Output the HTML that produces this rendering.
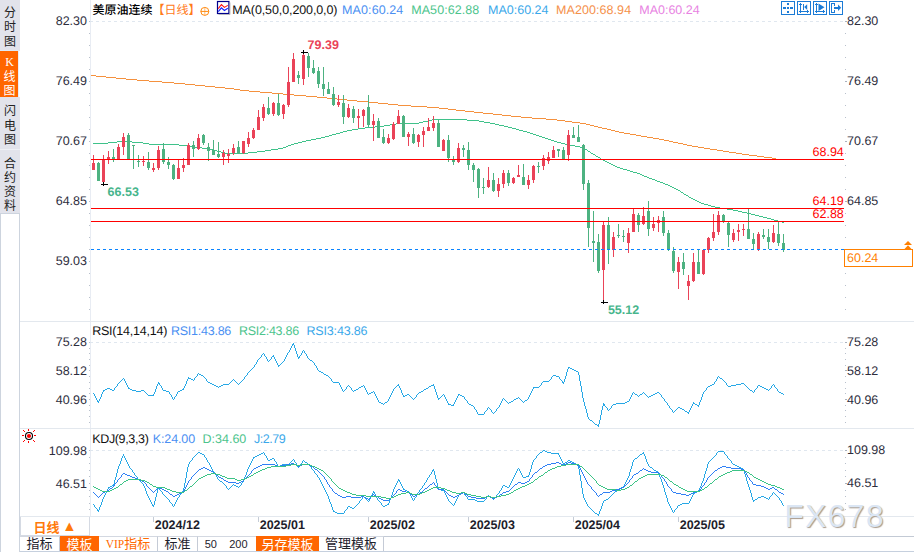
<!DOCTYPE html>
<html lang="zh-CN"><head><meta charset="utf-8"><title>美原油连续 日线</title>
<style>
html,body{margin:0;padding:0;background:#fff}
body{width:914px;height:552px;position:relative;overflow:hidden;font-family:"Liberation Sans","Noto Sans CJK SC",sans-serif;font-size:12px;color:#222}
.side{position:absolute;left:0;top:0;width:20px;height:552px}
.side .tab{position:absolute;left:0;width:20px;background:#e2e3eb;text-align:center;line-height:14.3px;font-size:12px;color:#222;box-sizing:border-box;word-break:break-all}
.side .tab span{display:block}
.side .on{background:#ff6600;color:#fff;width:19px;border-right:1px solid #e8edf5;border-top:1px solid #dfeaf7}
.side .on span{position:relative;left:.5px}
.side .on .k{font-family:"Liberation Serif",serif;font-size:12px;top:-.5px}
.side .rest{position:absolute;left:0;top:213px;width:18px;height:339px;border:1px solid #cdd4de;border-bottom:none;background:#fff}
.dl{position:absolute;left:20px;top:517px;width:70px;height:19px;border:1px solid #d5dae3;border-top:none;box-sizing:border-box;background:#fff;color:#ff7a0a;font-weight:bold;font-size:13px;line-height:20.4px;text-align:center;white-space:pre;padding-left:1px}
.dl i{font-style:normal;font-size:14.5px;position:relative;top:-1px;left:-1px}
.tb{position:absolute;left:20px;top:536px;height:15px;width:894px;display:flex;font-size:13px;line-height:14px;white-space:nowrap;color:#1e222c}
.tb div{box-sizing:border-box;text-align:center;height:15px;border-top:1px solid #d3d8e1;border-right:1px solid #c5cbd6;flex:none}
.tb .o{background:#ff6600;color:#fff;border-right:none;border-top:none;line-height:15px;padding-top:.5px}
.tb .v{color:#ff6a00}
.tb .v b{font-family:"Liberation Serif",serif;font-weight:normal;font-size:11.5px}
.tb .n{font-size:11px;border-right:none;text-align:left;padding-left:6.7px;word-spacing:9.2px;line-height:15px}
.tb .e{flex:1;border-right:none;border-top:1px solid #c3cad5}
</style></head><body>
<svg width="914" height="552" viewBox="0 0 914 552" style="position:absolute;left:0;top:0" shape-rendering="crispEdges">
<g fill="none">
<path d="M90.5 0V516" stroke="#e8ecf3"/>
<path d="M20 321.5H914M20 428.5H914M20 516.5H914" stroke="#e3e8ee"/>
<path d="M0 551.5H914" stroke="#c6d0de"/>
<path d="M90 21.5H844M90 342.5H844M90 450.5H844" stroke="#e0e7ef" stroke-dasharray="3 3"/>
</g>
<g fill="#b8c0cc"><rect x="89" y="21" width="1" height="1"/><rect x="845" y="21" width="1" height="1"/><rect x="89" y="33" width="1" height="1"/><rect x="845" y="33" width="1" height="1"/><rect x="89" y="45" width="1" height="1"/><rect x="845" y="45" width="1" height="1"/><rect x="89" y="57" width="1" height="1"/><rect x="845" y="57" width="1" height="1"/><rect x="89" y="69" width="1" height="1"/><rect x="845" y="69" width="1" height="1"/><rect x="89" y="81" width="1" height="1"/><rect x="845" y="81" width="1" height="1"/><rect x="89" y="93" width="1" height="1"/><rect x="845" y="93" width="1" height="1"/><rect x="89" y="105" width="1" height="1"/><rect x="845" y="105" width="1" height="1"/><rect x="89" y="117" width="1" height="1"/><rect x="845" y="117" width="1" height="1"/><rect x="89" y="129" width="1" height="1"/><rect x="845" y="129" width="1" height="1"/><rect x="89" y="141" width="1" height="1"/><rect x="845" y="141" width="1" height="1"/><rect x="89" y="153" width="1" height="1"/><rect x="845" y="153" width="1" height="1"/><rect x="89" y="165" width="1" height="1"/><rect x="845" y="165" width="1" height="1"/><rect x="89" y="177" width="1" height="1"/><rect x="845" y="177" width="1" height="1"/><rect x="89" y="189" width="1" height="1"/><rect x="845" y="189" width="1" height="1"/><rect x="89" y="201" width="1" height="1"/><rect x="845" y="201" width="1" height="1"/><rect x="89" y="213" width="1" height="1"/><rect x="845" y="213" width="1" height="1"/><rect x="89" y="225" width="1" height="1"/><rect x="845" y="225" width="1" height="1"/><rect x="89" y="237" width="1" height="1"/><rect x="845" y="237" width="1" height="1"/><rect x="89" y="249" width="1" height="1"/><rect x="845" y="249" width="1" height="1"/><rect x="89" y="261" width="1" height="1"/><rect x="845" y="261" width="1" height="1"/><rect x="89" y="273" width="1" height="1"/><rect x="845" y="273" width="1" height="1"/><rect x="89" y="285" width="1" height="1"/><rect x="845" y="285" width="1" height="1"/><rect x="89" y="297" width="1" height="1"/><rect x="845" y="297" width="1" height="1"/><rect x="89" y="309" width="1" height="1"/><rect x="845" y="309" width="1" height="1"/><rect x="89" y="342" width="1" height="1"/><rect x="845" y="342" width="1" height="1"/><rect x="89" y="348" width="1" height="1"/><rect x="845" y="348" width="1" height="1"/><rect x="89" y="353" width="1" height="1"/><rect x="845" y="353" width="1" height="1"/><rect x="89" y="359" width="1" height="1"/><rect x="845" y="359" width="1" height="1"/><rect x="89" y="365" width="1" height="1"/><rect x="845" y="365" width="1" height="1"/><rect x="89" y="370" width="1" height="1"/><rect x="845" y="370" width="1" height="1"/><rect x="89" y="376" width="1" height="1"/><rect x="845" y="376" width="1" height="1"/><rect x="89" y="382" width="1" height="1"/><rect x="845" y="382" width="1" height="1"/><rect x="89" y="388" width="1" height="1"/><rect x="845" y="388" width="1" height="1"/><rect x="89" y="393" width="1" height="1"/><rect x="845" y="393" width="1" height="1"/><rect x="89" y="399" width="1" height="1"/><rect x="845" y="399" width="1" height="1"/><rect x="89" y="405" width="1" height="1"/><rect x="845" y="405" width="1" height="1"/><rect x="89" y="410" width="1" height="1"/><rect x="845" y="410" width="1" height="1"/><rect x="89" y="416" width="1" height="1"/><rect x="845" y="416" width="1" height="1"/><rect x="89" y="422" width="1" height="1"/><rect x="845" y="422" width="1" height="1"/><rect x="89" y="450" width="1" height="1"/><rect x="845" y="450" width="1" height="1"/><rect x="89" y="457" width="1" height="1"/><rect x="845" y="457" width="1" height="1"/><rect x="89" y="463" width="1" height="1"/><rect x="845" y="463" width="1" height="1"/><rect x="89" y="470" width="1" height="1"/><rect x="845" y="470" width="1" height="1"/><rect x="89" y="476" width="1" height="1"/><rect x="845" y="476" width="1" height="1"/><rect x="89" y="483" width="1" height="1"/><rect x="845" y="483" width="1" height="1"/><rect x="89" y="490" width="1" height="1"/><rect x="845" y="490" width="1" height="1"/><rect x="89" y="496" width="1" height="1"/><rect x="845" y="496" width="1" height="1"/><rect x="89" y="503" width="1" height="1"/><rect x="845" y="503" width="1" height="1"/><rect x="89" y="509" width="1" height="1"/><rect x="845" y="509" width="1" height="1"/></g>
<g fill="#aab2be"><rect x="845" y="21" width="2" height="1"/><rect x="845" y="81" width="2" height="1"/><rect x="845" y="141" width="2" height="1"/><rect x="845" y="201" width="2" height="1"/><rect x="845" y="261" width="2" height="1"/><rect x="845" y="342" width="2" height="1"/><rect x="845" y="370" width="2" height="1"/><rect x="845" y="399" width="2" height="1"/><rect x="845" y="450" width="2" height="1"/><rect x="845" y="483" width="2" height="1"/></g>
<path fill="#f5913e" d="M91 75h5v1h-5zM96 76h10v1h-10zM106 77h10v1h-10zM116 78h10v1h-10zM126 79h11v1h-11zM137 80h12v1h-12zM149 81h13v1h-13zM162 82h12v1h-12zM174 83h11v1h-11zM185 84h10v1h-10zM195 85h10v1h-10zM205 86h10v1h-10zM215 87h10v1h-10zM225 88h9v1h-9zM234 89h6v1h-6zM240 90h9v1h-9zM249 91h11v1h-11zM260 92h12v1h-12zM272 93h11v1h-11zM283 94h11v1h-11zM294 95h12v1h-12zM306 96h11v1h-11zM317 97h10v1h-10zM327 98h10v1h-10zM337 99h10v1h-10zM347 100h10v1h-10zM357 101h11v1h-11zM368 102h10v1h-10zM378 103h10v1h-10zM388 104h10v1h-10zM398 105h13v1h-13zM411 106h16v1h-16zM427 107h12v1h-12zM439 108h9v1h-9zM448 109h8v1h-8zM456 110h9v1h-9zM465 111h9v1h-9zM474 112h9v1h-9zM483 113h10v1h-10zM493 114h9v1h-9zM502 115h9v1h-9zM511 116h10v1h-10zM521 117h11v1h-11zM532 118h14v1h-14zM546 119h11v1h-11zM557 120h8v1h-8zM565 121h7v1h-7zM572 122h8v1h-8zM580 123h6v1h-6zM586 124h4v1h-4zM590 125h4v1h-4zM594 126h4v1h-4zM598 127h4v1h-4zM602 128h5v1h-5zM607 129h4v1h-4zM611 130h4v1h-4zM615 131h4v1h-4zM619 132h5v1h-5zM624 133h6v1h-6zM630 134h6v1h-6zM636 135h5v1h-5zM641 136h6v1h-6zM647 137h6v1h-6zM653 138h6v1h-6zM659 139h5v1h-5zM664 140h5v1h-5zM669 141h4v1h-4zM673 142h5v1h-5zM678 143h5v1h-5zM683 144h4v1h-4zM687 145h5v1h-5zM692 146h6v1h-6zM698 147h6v1h-6zM704 148h6v1h-6zM710 149h7v1h-7zM717 150h6v1h-6zM723 151h6v1h-6zM729 152h7v1h-7zM736 153h6v1h-6zM742 154h7v1h-7zM749 155h8v1h-8zM757 156h7v1h-7zM764 157h8v1h-8zM772 158h4v1h-4z"/>
<path fill="#3fc28a" d="M93 143h15v1h-15zM108 142h9v1h-9zM117 141h15v1h-15zM132 142h11v1h-11zM143 143h6v1h-6zM149 144h30v1h-30zM179 145h11v1h-11zM190 146h4v1h-4zM194 147h8v1h-8zM202 148h7v1h-7zM209 149h4v1h-4zM213 150h4v1h-4zM217 151h4v1h-4zM221 152h4v1h-4zM225 153h23v1h-23zM248 152h9v1h-9zM257 151h8v1h-8zM265 150h6v1h-6zM271 149h7v1h-7zM278 148h5v1h-5zM283 147h3v1h-3zM286 146h2v1h-2zM288 145h3v1h-3zM291 144h3v1h-3zM294 143h4v1h-4zM298 142h4v1h-4zM302 141h4v1h-4zM306 140h5v1h-5zM311 139h5v1h-5zM316 138h5v1h-5zM321 137h4v1h-4zM325 136h4v1h-4zM329 135h3v1h-3zM332 134h4v1h-4zM336 133h4v1h-4zM340 132h3v1h-3zM343 131h4v1h-4zM347 130h5v1h-5zM352 129h6v1h-6zM358 128h7v1h-7zM365 127h10v1h-10zM375 126h9v1h-9zM384 125h6v1h-6zM390 124h6v1h-6zM396 123h23v1h-23zM419 122h4v1h-4zM423 121h5v1h-5zM428 120h4v1h-4zM432 119h35v1h-35zM467 120h12v1h-12zM479 121h5v1h-5zM484 122h6v1h-6zM490 123h5v1h-5zM495 124h4v1h-4zM499 125h5v1h-5zM504 126h4v1h-4zM508 127h4v1h-4zM512 128h4v1h-4zM516 129h3v1h-3zM519 130h4v1h-4zM523 131h4v1h-4zM527 132h3v1h-3zM530 133h3v1h-3zM533 134h3v1h-3zM536 135h3v1h-3zM539 136h3v1h-3zM542 137h3v1h-3zM545 138h3v1h-3zM548 139h3v1h-3zM551 140h3v1h-3zM554 141h3v1h-3zM557 142h4v1h-4zM561 143h4v1h-4zM565 144h5v1h-5zM570 145h5v1h-5zM575 146h5v1h-5zM580 147h3v1h-3zM583 148h2v1h-2zM585 149h2v1h-2zM588 151h2v1h-2zM591 153h2v1h-2zM593 154h2v1h-2zM596 156h2v1h-2zM598 157h2v1h-2zM601 159h2v1h-2zM603 160h2v1h-2zM605 161h2v1h-2zM607 162h2v1h-2zM609 163h2v1h-2zM611 164h2v1h-2zM613 165h2v1h-2zM615 166h2v1h-2zM617 167h3v1h-3zM620 168h3v1h-3zM623 169h4v1h-4zM627 170h3v1h-3zM630 171h3v1h-3zM633 172h4v1h-4zM637 173h3v1h-3zM640 174h2v1h-2zM642 175h2v1h-2zM644 176h3v1h-3zM647 177h2v1h-2zM649 178h3v1h-3zM652 179h3v1h-3zM655 180h2v1h-2zM657 181h3v1h-3zM660 182h3v1h-3zM663 183h2v1h-2zM665 184h3v1h-3zM668 185h2v1h-2zM670 186h2v1h-2zM672 187h2v1h-2zM674 188h2v1h-2zM676 189h2v1h-2zM678 190h2v1h-2zM681 192h2v1h-2zM684 194h2v1h-2zM686 195h2v1h-2zM689 197h2v1h-2zM691 198h2v1h-2zM693 199h2v1h-2zM695 200h2v1h-2zM697 201h2v1h-2zM699 202h2v1h-2zM701 203h3v1h-3zM704 204h4v1h-4zM708 205h3v1h-3zM711 206h4v1h-4zM715 207h5v1h-5zM720 208h7v1h-7zM727 209h6v1h-6zM733 210h5v1h-5zM738 211h4v1h-4zM742 212h5v1h-5zM747 213h4v1h-4zM751 214h4v1h-4zM755 215h4v1h-4zM759 216h4v1h-4zM763 217h4v1h-4zM767 218h4v1h-4zM771 219h3v1h-3zM774 220h4v1h-4zM778 221h4v1h-4zM782 222h2v1h-2zM587 150h1v1h-1zM590 152h1v1h-1zM595 155h1v1h-1zM600 158h1v1h-1zM680 191h1v1h-1zM683 193h1v1h-1zM688 196h1v1h-1z"/>
<g fill="#ea4358"><rect x="93" y="155" width="1" height="15"/><rect x="92" y="163" width="3" height="7"/><rect x="103" y="155" width="1" height="29"/><rect x="102" y="159" width="3" height="23"/><rect x="108" y="151" width="1" height="13"/><rect x="107" y="157" width="3" height="3"/><rect x="118" y="144" width="1" height="15"/><rect x="117" y="147" width="3" height="12"/><rect x="123" y="133" width="1" height="22"/><rect x="122" y="137" width="3" height="10"/><rect x="143" y="156" width="1" height="10"/><rect x="142" y="161" width="3" height="1"/><rect x="153" y="163" width="1" height="9"/><rect x="152" y="168" width="3" height="2"/><rect x="158" y="146" width="1" height="24"/><rect x="157" y="150" width="3" height="18"/><rect x="178" y="160" width="1" height="19"/><rect x="177" y="168" width="3" height="11"/><rect x="183" y="158" width="1" height="14"/><rect x="182" y="165" width="3" height="3"/><rect x="188" y="143" width="1" height="22"/><rect x="187" y="145" width="3" height="20"/><rect x="198" y="134" width="1" height="16"/><rect x="197" y="138" width="3" height="11"/><rect x="223" y="150" width="1" height="15"/><rect x="222" y="153" width="3" height="4"/><rect x="228" y="149" width="1" height="14"/><rect x="227" y="154" width="3" height="2"/><rect x="233" y="144" width="1" height="11"/><rect x="232" y="148" width="3" height="5"/><rect x="243" y="141" width="1" height="13"/><rect x="242" y="141" width="3" height="12"/><rect x="248" y="132" width="1" height="15"/><rect x="247" y="138" width="3" height="6"/><rect x="253" y="128" width="1" height="11"/><rect x="252" y="130" width="3" height="8"/><rect x="258" y="110" width="1" height="20"/><rect x="257" y="117" width="3" height="13"/><rect x="263" y="104" width="1" height="17"/><rect x="262" y="107" width="3" height="11"/><rect x="273" y="102" width="1" height="14"/><rect x="272" y="103" width="3" height="11"/><rect x="283" y="104" width="1" height="15"/><rect x="282" y="105" width="3" height="9"/><rect x="288" y="67" width="1" height="40"/><rect x="287" y="82" width="3" height="23"/><rect x="293" y="53" width="1" height="29"/><rect x="292" y="59" width="3" height="23"/><rect x="303" y="52" width="1" height="33"/><rect x="302" y="55" width="3" height="24"/><rect x="338" y="95" width="1" height="12"/><rect x="337" y="102" width="3" height="3"/><rect x="348" y="104" width="1" height="14"/><rect x="347" y="108" width="3" height="9"/><rect x="358" y="109" width="1" height="19"/><rect x="357" y="116" width="3" height="2"/><rect x="363" y="109" width="1" height="18"/><rect x="362" y="110" width="3" height="6"/><rect x="373" y="114" width="1" height="27"/><rect x="372" y="121" width="3" height="4"/><rect x="388" y="134" width="1" height="10"/><rect x="387" y="138" width="3" height="5"/><rect x="393" y="122" width="1" height="18"/><rect x="392" y="124" width="3" height="15"/><rect x="398" y="110" width="1" height="14"/><rect x="397" y="116" width="3" height="8"/><rect x="408" y="132" width="1" height="14"/><rect x="407" y="134" width="3" height="3"/><rect x="418" y="134" width="1" height="13"/><rect x="417" y="135" width="3" height="7"/><rect x="423" y="127" width="1" height="20"/><rect x="422" y="131" width="3" height="4"/><rect x="428" y="118" width="1" height="13"/><rect x="427" y="127" width="3" height="4"/><rect x="433" y="116" width="1" height="15"/><rect x="432" y="123" width="3" height="5"/><rect x="443" y="139" width="1" height="12"/><rect x="442" y="140" width="3" height="11"/><rect x="458" y="143" width="1" height="20"/><rect x="457" y="148" width="3" height="14"/><rect x="488" y="167" width="1" height="21"/><rect x="487" y="180" width="3" height="7"/><rect x="498" y="178" width="1" height="19"/><rect x="497" y="184" width="3" height="7"/><rect x="503" y="170" width="1" height="18"/><rect x="502" y="173" width="3" height="11"/><rect x="513" y="177" width="1" height="7"/><rect x="512" y="178" width="3" height="5"/><rect x="518" y="165" width="1" height="12"/><rect x="517" y="175" width="3" height="2"/><rect x="528" y="175" width="1" height="14"/><rect x="527" y="180" width="3" height="5"/><rect x="533" y="165" width="1" height="18"/><rect x="532" y="166" width="3" height="14"/><rect x="543" y="155" width="1" height="15"/><rect x="542" y="158" width="3" height="8"/><rect x="548" y="152" width="1" height="12"/><rect x="547" y="157" width="3" height="4"/><rect x="553" y="146" width="1" height="12"/><rect x="552" y="150" width="3" height="8"/><rect x="568" y="130" width="1" height="31"/><rect x="567" y="135" width="3" height="20"/><rect x="603" y="222" width="1" height="81"/><rect x="602" y="225" width="3" height="45"/><rect x="613" y="232" width="1" height="25"/><rect x="612" y="237" width="3" height="13"/><rect x="628" y="228" width="1" height="25"/><rect x="627" y="233" width="3" height="10"/><rect x="633" y="208" width="1" height="24"/><rect x="632" y="214" width="3" height="18"/><rect x="643" y="207" width="1" height="18"/><rect x="642" y="216" width="3" height="8"/><rect x="653" y="217" width="1" height="14"/><rect x="652" y="224" width="3" height="4"/><rect x="658" y="216" width="1" height="16"/><rect x="657" y="220" width="3" height="3"/><rect x="678" y="257" width="1" height="32"/><rect x="677" y="262" width="3" height="10"/><rect x="688" y="275" width="1" height="25"/><rect x="687" y="281" width="3" height="5"/><rect x="693" y="253" width="1" height="29"/><rect x="692" y="262" width="3" height="19"/><rect x="703" y="249" width="1" height="26"/><rect x="702" y="250" width="3" height="24"/><rect x="708" y="237" width="1" height="16"/><rect x="707" y="238" width="3" height="12"/><rect x="713" y="214" width="1" height="27"/><rect x="712" y="232" width="3" height="6"/><rect x="718" y="211" width="1" height="24"/><rect x="717" y="215" width="3" height="17"/><rect x="733" y="229" width="1" height="13"/><rect x="732" y="233" width="3" height="7"/><rect x="738" y="224" width="1" height="17"/><rect x="737" y="230" width="3" height="2"/><rect x="743" y="224" width="1" height="12"/><rect x="742" y="229" width="3" height="1"/><rect x="758" y="232" width="1" height="19"/><rect x="757" y="234" width="3" height="16"/><rect x="773" y="225" width="1" height="18"/><rect x="772" y="233" width="3" height="9"/></g>
<g fill="#4db281"><rect x="98" y="162" width="1" height="19"/><rect x="97" y="163" width="3" height="18"/><rect x="113" y="149" width="1" height="13"/><rect x="112" y="157" width="3" height="2"/><rect x="128" y="133" width="1" height="27"/><rect x="127" y="135" width="3" height="24"/><rect x="133" y="145" width="1" height="24"/><rect x="132" y="145" width="3" height="1"/><rect x="138" y="155" width="1" height="12"/><rect x="137" y="161" width="3" height="1"/><rect x="148" y="152" width="1" height="18"/><rect x="147" y="162" width="3" height="6"/><rect x="163" y="143" width="1" height="21"/><rect x="162" y="149" width="3" height="13"/><rect x="168" y="157" width="1" height="12"/><rect x="167" y="162" width="3" height="3"/><rect x="173" y="164" width="1" height="16"/><rect x="172" y="165" width="3" height="14"/><rect x="193" y="141" width="1" height="16"/><rect x="192" y="145" width="3" height="4"/><rect x="203" y="134" width="1" height="11"/><rect x="202" y="135" width="3" height="8"/><rect x="208" y="143" width="1" height="18"/><rect x="207" y="147" width="3" height="4"/><rect x="213" y="140" width="1" height="15"/><rect x="212" y="150" width="3" height="5"/><rect x="218" y="142" width="1" height="16"/><rect x="217" y="154" width="3" height="3"/><rect x="238" y="141" width="1" height="13"/><rect x="237" y="147" width="3" height="6"/><rect x="268" y="97" width="1" height="18"/><rect x="267" y="108" width="3" height="6"/><rect x="278" y="94" width="1" height="22"/><rect x="277" y="103" width="3" height="12"/><rect x="298" y="71" width="1" height="13"/><rect x="297" y="75" width="3" height="3"/><rect x="308" y="53" width="1" height="24"/><rect x="307" y="56" width="3" height="12"/><rect x="313" y="60" width="1" height="14"/><rect x="312" y="68" width="3" height="5"/><rect x="318" y="67" width="1" height="21"/><rect x="317" y="71" width="3" height="13"/><rect x="323" y="67" width="1" height="29"/><rect x="322" y="84" width="3" height="5"/><rect x="328" y="82" width="1" height="12"/><rect x="327" y="89" width="3" height="5"/><rect x="333" y="87" width="1" height="19"/><rect x="332" y="94" width="3" height="11"/><rect x="343" y="95" width="1" height="29"/><rect x="342" y="103" width="3" height="14"/><rect x="353" y="106" width="1" height="17"/><rect x="352" y="109" width="3" height="9"/><rect x="368" y="95" width="1" height="32"/><rect x="367" y="107" width="3" height="18"/><rect x="378" y="118" width="1" height="20"/><rect x="377" y="121" width="3" height="17"/><rect x="383" y="129" width="1" height="15"/><rect x="382" y="137" width="3" height="6"/><rect x="403" y="115" width="1" height="22"/><rect x="402" y="116" width="3" height="21"/><rect x="413" y="128" width="1" height="16"/><rect x="412" y="134" width="3" height="9"/><rect x="438" y="120" width="1" height="27"/><rect x="437" y="123" width="3" height="24"/><rect x="448" y="135" width="1" height="27"/><rect x="447" y="140" width="3" height="18"/><rect x="453" y="156" width="1" height="9"/><rect x="452" y="160" width="3" height="2"/><rect x="463" y="145" width="1" height="12"/><rect x="462" y="148" width="3" height="2"/><rect x="468" y="142" width="1" height="28"/><rect x="467" y="150" width="3" height="15"/><rect x="473" y="163" width="1" height="19"/><rect x="472" y="165" width="3" height="5"/><rect x="478" y="168" width="1" height="30"/><rect x="477" y="169" width="3" height="19"/><rect x="483" y="178" width="1" height="16"/><rect x="482" y="187" width="3" height="1"/><rect x="493" y="173" width="1" height="19"/><rect x="492" y="180" width="3" height="11"/><rect x="508" y="170" width="1" height="16"/><rect x="507" y="173" width="3" height="10"/><rect x="523" y="164" width="1" height="21"/><rect x="522" y="177" width="3" height="8"/><rect x="538" y="162" width="1" height="11"/><rect x="537" y="166" width="3" height="1"/><rect x="558" y="149" width="1" height="8"/><rect x="557" y="149" width="3" height="2"/><rect x="563" y="147" width="1" height="12"/><rect x="562" y="150" width="3" height="9"/><rect x="573" y="127" width="1" height="11"/><rect x="572" y="135" width="3" height="3"/><rect x="578" y="125" width="1" height="17"/><rect x="577" y="137" width="3" height="5"/><rect x="583" y="144" width="1" height="46"/><rect x="582" y="145" width="3" height="39"/><rect x="588" y="180" width="1" height="67"/><rect x="587" y="183" width="3" height="45"/><rect x="593" y="211" width="1" height="51"/><rect x="592" y="241" width="3" height="2"/><rect x="598" y="234" width="1" height="39"/><rect x="597" y="242" width="3" height="29"/><rect x="608" y="217" width="1" height="47"/><rect x="607" y="225" width="3" height="25"/><rect x="618" y="224" width="1" height="14"/><rect x="617" y="235" width="3" height="1"/><rect x="623" y="230" width="1" height="12"/><rect x="622" y="236" width="3" height="1"/><rect x="638" y="213" width="1" height="19"/><rect x="637" y="215" width="3" height="10"/><rect x="648" y="201" width="1" height="35"/><rect x="647" y="211" width="3" height="18"/><rect x="663" y="211" width="1" height="25"/><rect x="662" y="217" width="3" height="16"/><rect x="668" y="230" width="1" height="21"/><rect x="667" y="233" width="3" height="17"/><rect x="673" y="247" width="1" height="26"/><rect x="672" y="251" width="3" height="20"/><rect x="683" y="253" width="1" height="22"/><rect x="682" y="262" width="3" height="7"/><rect x="698" y="250" width="1" height="24"/><rect x="697" y="262" width="3" height="12"/><rect x="723" y="214" width="1" height="9"/><rect x="722" y="215" width="3" height="7"/><rect x="728" y="222" width="1" height="25"/><rect x="727" y="223" width="3" height="12"/><rect x="748" y="208" width="1" height="31"/><rect x="747" y="229" width="3" height="10"/><rect x="753" y="233" width="1" height="17"/><rect x="752" y="239" width="3" height="5"/><rect x="763" y="229" width="1" height="10"/><rect x="762" y="235" width="3" height="2"/><rect x="768" y="229" width="1" height="20"/><rect x="767" y="237" width="3" height="5"/><rect x="778" y="221" width="1" height="25"/><rect x="777" y="234" width="3" height="9"/><rect x="783" y="234" width="1" height="18"/><rect x="782" y="243" width="3" height="7"/></g>
<g fill="#ff0000"><rect x="91" y="159" width="753" height="1"/><rect x="91" y="208" width="753" height="1"/><rect x="91" y="221" width="753" height="1"/></g>
<path d="M91 249.5H844" stroke="#0a84ff" stroke-width="1" stroke-dasharray="3 3" fill="none"/>
<g fill="#000"><rect x="301" y="52" width="7" height="1"/><rect x="303" y="50" width="1" height="4"/><rect x="101" y="184" width="7" height="1"/><rect x="103" y="182" width="1" height="4"/><rect x="601" y="302" width="7" height="1"/><rect x="603" y="300" width="1" height="4"/></g>
<path fill="#27a8e6" d="M97 401h2v1h-2zM103 390h2v1h-2zM105 389h2v1h-2zM107 388h3v1h-3zM110 389h2v1h-2zM112 390h2v1h-2zM128 388h2v1h-2zM130 389h2v1h-2zM132 390h4v1h-4zM136 391h5v1h-5zM141 390h3v1h-3zM148 395h6v1h-6zM158 383h2v1h-2zM163 390h3v1h-3zM166 391h3v1h-3zM178 391h2v1h-2zM180 390h2v1h-2zM182 389h2v1h-2zM188 378h3v1h-3zM191 379h2v1h-2zM199 374h2v1h-2zM201 375h2v1h-2zM208 382h2v1h-2zM210 383h2v1h-2zM212 384h2v1h-2zM214 385h2v1h-2zM216 386h2v1h-2zM219 386h2v1h-2zM221 385h2v1h-2zM223 384h6v1h-6zM272 356h2v1h-2zM278 365h2v1h-2zM292 344h2v1h-2zM298 357h2v1h-2zM310 360h2v1h-2zM319 371h2v1h-2zM321 372h2v1h-2zM324 374h2v1h-2zM326 375h2v1h-2zM333 382h6v1h-6zM354 390h2v1h-2zM356 389h2v1h-2zM359 387h2v1h-2zM361 386h2v1h-2zM369 393h2v1h-2zM371 392h2v1h-2zM379 402h2v1h-2zM381 403h2v1h-2zM385 402h2v1h-2zM397 385h2v1h-2zM403 396h2v1h-2zM405 395h2v1h-2zM407 394h2v1h-2zM419 392h2v1h-2zM421 391h2v1h-2zM424 389h2v1h-2zM426 388h2v1h-2zM429 386h2v1h-2zM431 385h3v1h-3zM438 398h2v1h-2zM448 404h3v1h-3zM451 405h3v1h-3zM458 394h2v1h-2zM460 395h2v1h-2zM462 396h2v1h-2zM469 404h2v1h-2zM471 405h2v1h-2zM478 414h6v1h-6zM509 402h2v1h-2zM511 401h2v1h-2zM514 399h2v1h-2zM516 398h2v1h-2zM525 400h2v1h-2zM533 387h6v1h-6zM543 381h6v1h-6zM553 375h3v1h-3zM556 376h3v1h-3zM562 382h2v1h-2zM568 367h2v1h-2zM570 368h2v1h-2zM572 369h2v1h-2zM574 370h2v1h-2zM576 371h2v1h-2zM590 420h2v1h-2zM595 424h2v1h-2zM597 425h2v1h-2zM603 404h2v1h-2zM603 405h2v1h-2zM613 404h3v1h-3zM616 403h9v1h-9zM625 402h2v1h-2zM627 401h2v1h-2zM635 394h2v1h-2zM640 394h2v1h-2zM649 396h2v1h-2zM651 395h2v1h-2zM653 394h2v1h-2zM655 393h2v1h-2zM657 392h2v1h-2zM678 407h2v1h-2zM680 408h2v1h-2zM682 409h2v1h-2zM685 411h2v1h-2zM687 412h2v1h-2zM693 403h2v1h-2zM695 404h2v1h-2zM697 405h2v1h-2zM708 386h2v1h-2zM710 385h2v1h-2zM712 384h2v1h-2zM720 378h2v1h-2zM728 386h3v1h-3zM731 385h5v1h-5zM736 384h5v1h-5zM741 383h3v1h-3zM750 390h2v1h-2zM758 385h2v1h-2zM760 386h2v1h-2zM762 387h2v1h-2zM764 388h2v1h-2zM766 389h2v1h-2zM779 392h2v1h-2zM781 393h2v1h-2zM93 393h1v1h-1zM94 394h1v2h-1zM95 396h1v2h-1zM96 398h1v2h-1zM97 400h1v1h-1zM98 402h1v1h-1zM99 399h1v2h-1zM100 397h1v2h-1zM101 394h1v3h-1zM102 392h1v2h-1zM103 391h1v1h-1zM114 388h1v2h-1zM115 387h1v1h-1zM116 386h1v1h-1zM117 384h1v2h-1zM118 383h1v1h-1zM119 382h1v1h-1zM120 381h1v1h-1zM121 380h1v1h-1zM122 379h1v1h-1zM123 378h1v1h-1zM124 379h1v2h-1zM125 381h1v2h-1zM126 383h1v2h-1zM127 385h1v2h-1zM128 387h1v1h-1zM144 391h1v1h-1zM145 392h1v1h-1zM146 393h1v1h-1zM147 394h1v1h-1zM153 394h1v1h-1zM154 392h1v2h-1zM155 389h1v3h-1zM156 386h1v3h-1zM157 384h1v2h-1zM158 382h1v1h-1zM159 384h1v1h-1zM160 385h1v1h-1zM161 386h1v2h-1zM162 388h1v2h-1zM169 392h1v2h-1zM170 394h1v1h-1zM171 395h1v2h-1zM172 397h1v2h-1zM173 399h1v1h-1zM174 397h1v2h-1zM175 396h1v1h-1zM176 394h1v2h-1zM177 392h1v2h-1zM183 388h1v1h-1zM184 386h1v2h-1zM185 384h1v2h-1zM186 381h1v3h-1zM187 379h1v2h-1zM188 377h1v1h-1zM193 380h1v1h-1zM194 378h1v2h-1zM195 377h1v1h-1zM196 376h1v1h-1zM197 374h1v2h-1zM198 373h1v1h-1zM203 376h1v1h-1zM204 377h1v1h-1zM205 378h1v1h-1zM206 379h1v2h-1zM207 381h1v1h-1zM218 387h1v1h-1zM229 383h1v1h-1zM230 382h1v1h-1zM231 381h1v1h-1zM232 380h1v1h-1zM233 379h1v1h-1zM234 380h1v1h-1zM235 381h1v1h-1zM236 382h1v1h-1zM237 383h1v1h-1zM238 384h1v1h-1zM239 383h1v1h-1zM240 382h1v1h-1zM241 381h1v1h-1zM242 380h1v1h-1zM243 379h1v1h-1zM244 377h1v2h-1zM245 376h1v1h-1zM246 375h1v1h-1zM247 373h1v2h-1zM248 372h1v1h-1zM249 371h1v1h-1zM250 370h1v1h-1zM251 369h1v1h-1zM252 368h1v1h-1zM253 367h1v1h-1zM254 365h1v2h-1zM255 364h1v1h-1zM256 362h1v2h-1zM257 360h1v2h-1zM258 359h1v1h-1zM259 358h1v1h-1zM260 357h1v1h-1zM261 355h1v2h-1zM262 354h1v1h-1zM263 353h1v1h-1zM264 354h1v2h-1zM265 356h1v1h-1zM266 357h1v2h-1zM267 359h1v2h-1zM268 361h1v1h-1zM269 360h1v1h-1zM270 359h1v1h-1zM271 357h1v2h-1zM273 355h1v1h-1zM274 357h1v2h-1zM275 359h1v2h-1zM276 361h1v2h-1zM277 363h1v2h-1zM278 366h1v1h-1zM280 364h1v1h-1zM281 363h1v1h-1zM282 362h1v1h-1zM283 361h1v1h-1zM284 359h1v2h-1zM285 357h1v2h-1zM286 355h1v2h-1zM287 353h1v2h-1zM288 352h1v1h-1zM289 350h1v2h-1zM290 348h1v2h-1zM291 346h1v2h-1zM292 345h1v1h-1zM293 343h1v1h-1zM294 345h1v3h-1zM295 348h1v3h-1zM296 351h1v3h-1zM297 354h1v3h-1zM298 358h1v1h-1zM299 356h1v1h-1zM300 355h1v1h-1zM301 353h1v2h-1zM302 351h1v2h-1zM303 350h1v1h-1zM304 351h1v2h-1zM305 353h1v1h-1zM306 354h1v2h-1zM307 356h1v2h-1zM308 358h1v1h-1zM309 359h1v1h-1zM312 361h1v1h-1zM313 362h1v1h-1zM314 363h1v2h-1zM315 365h1v1h-1zM316 366h1v2h-1zM317 368h1v2h-1zM318 370h1v1h-1zM323 373h1v1h-1zM328 376h1v1h-1zM329 377h1v1h-1zM330 378h1v1h-1zM331 379h1v2h-1zM332 381h1v1h-1zM339 383h1v2h-1zM340 385h1v2h-1zM341 387h1v2h-1zM342 389h1v2h-1zM343 391h1v1h-1zM344 390h1v1h-1zM345 389h1v1h-1zM346 387h1v2h-1zM347 386h1v1h-1zM348 385h1v1h-1zM349 386h1v1h-1zM350 387h1v1h-1zM351 388h1v2h-1zM352 390h1v1h-1zM353 391h1v1h-1zM358 388h1v1h-1zM363 385h1v1h-1zM364 386h1v2h-1zM365 388h1v2h-1zM366 390h1v2h-1zM367 392h1v2h-1zM368 394h1v1h-1zM373 391h1v1h-1zM374 392h1v2h-1zM375 394h1v2h-1zM376 396h1v2h-1zM377 398h1v2h-1zM378 400h1v2h-1zM383 404h1v1h-1zM384 403h1v1h-1zM387 401h1v1h-1zM388 399h1v2h-1zM389 397h1v2h-1zM390 395h1v2h-1zM391 393h1v2h-1zM392 391h1v2h-1zM393 389h1v2h-1zM394 388h1v1h-1zM395 387h1v1h-1zM396 386h1v1h-1zM398 384h1v1h-1zM399 386h1v2h-1zM400 388h1v2h-1zM401 390h1v3h-1zM402 393h1v2h-1zM403 395h1v1h-1zM409 395h1v1h-1zM410 396h1v1h-1zM411 397h1v1h-1zM412 398h1v1h-1zM413 399h1v1h-1zM414 398h1v1h-1zM415 397h1v1h-1zM416 395h1v2h-1zM417 394h1v1h-1zM418 393h1v1h-1zM423 390h1v1h-1zM428 387h1v1h-1zM433 384h1v1h-1zM434 386h1v3h-1zM435 389h1v3h-1zM436 392h1v3h-1zM437 395h1v3h-1zM438 399h1v1h-1zM440 397h1v1h-1zM441 396h1v1h-1zM442 395h1v1h-1zM443 394h1v1h-1zM444 395h1v2h-1zM445 397h1v2h-1zM446 399h1v2h-1zM447 401h1v2h-1zM448 403h1v1h-1zM453 404h1v1h-1zM454 402h1v2h-1zM455 400h1v2h-1zM456 398h1v2h-1zM457 396h1v2h-1zM458 395h1v1h-1zM464 397h1v2h-1zM465 399h1v1h-1zM466 400h1v1h-1zM467 401h1v2h-1zM468 403h1v1h-1zM473 406h1v1h-1zM474 407h1v2h-1zM475 409h1v1h-1zM476 410h1v2h-1zM477 412h1v2h-1zM484 412h1v2h-1zM485 411h1v1h-1zM486 410h1v1h-1zM487 408h1v2h-1zM488 407h1v1h-1zM489 408h1v1h-1zM490 409h1v1h-1zM491 410h1v2h-1zM492 412h1v1h-1zM493 413h1v1h-1zM494 412h1v1h-1zM495 411h1v1h-1zM496 409h1v2h-1zM497 408h1v1h-1zM498 407h1v1h-1zM499 405h1v2h-1zM500 403h1v2h-1zM501 401h1v2h-1zM502 399h1v2h-1zM503 398h1v1h-1zM504 399h1v1h-1zM505 400h1v1h-1zM506 401h1v1h-1zM507 402h1v1h-1zM508 403h1v1h-1zM513 400h1v1h-1zM518 397h1v1h-1zM519 398h1v1h-1zM520 399h1v1h-1zM521 400h1v1h-1zM522 401h1v1h-1zM523 402h1v1h-1zM524 401h1v1h-1zM527 399h1v1h-1zM528 397h1v2h-1zM529 395h1v2h-1zM530 393h1v2h-1zM531 391h1v2h-1zM532 389h1v2h-1zM533 388h1v1h-1zM539 386h1v1h-1zM540 385h1v1h-1zM541 383h1v2h-1zM542 382h1v1h-1zM549 380h1v1h-1zM550 379h1v1h-1zM551 377h1v2h-1zM552 376h1v1h-1zM559 377h1v2h-1zM560 379h1v1h-1zM561 380h1v1h-1zM562 381h1v1h-1zM563 383h1v1h-1zM564 379h1v3h-1zM565 376h1v3h-1zM566 372h1v4h-1zM567 369h1v3h-1zM568 368h1v1h-1zM578 372h1v3h-1zM579 375h1v6h-1zM580 381h1v5h-1zM581 386h1v6h-1zM582 392h1v6h-1zM583 398h1v4h-1zM584 402h1v4h-1zM585 406h1v3h-1zM586 409h1v4h-1zM587 413h1v4h-1zM588 417h1v2h-1zM589 419h1v1h-1zM592 421h1v1h-1zM593 422h1v1h-1zM594 423h1v1h-1zM598 424h1v1h-1zM598 426h1v1h-1zM599 420h1v4h-1zM600 415h1v5h-1zM601 410h1v5h-1zM602 406h1v4h-1zM603 403h1v1h-1zM605 406h1v1h-1zM606 407h1v1h-1zM607 408h1v2h-1zM608 410h1v1h-1zM609 409h1v1h-1zM610 408h1v1h-1zM611 406h1v2h-1zM612 405h1v1h-1zM629 399h1v2h-1zM630 397h1v2h-1zM631 395h1v2h-1zM632 393h1v2h-1zM633 392h1v1h-1zM634 393h1v1h-1zM637 395h1v1h-1zM638 396h1v1h-1zM639 395h1v1h-1zM642 393h1v1h-1zM643 392h1v1h-1zM644 393h1v1h-1zM645 394h1v1h-1zM646 395h1v1h-1zM647 396h1v1h-1zM648 397h1v1h-1zM659 393h1v1h-1zM660 394h1v1h-1zM661 395h1v2h-1zM662 397h1v1h-1zM663 398h1v1h-1zM664 399h1v2h-1zM665 401h1v1h-1zM666 402h1v1h-1zM667 403h1v2h-1zM668 405h1v1h-1zM669 406h1v2h-1zM670 408h1v1h-1zM671 409h1v1h-1zM672 410h1v2h-1zM673 412h1v1h-1zM674 411h1v1h-1zM675 410h1v1h-1zM676 409h1v1h-1zM677 408h1v1h-1zM684 410h1v1h-1zM688 413h1v1h-1zM689 410h1v2h-1zM690 408h1v2h-1zM691 406h1v2h-1zM692 404h1v2h-1zM693 402h1v1h-1zM698 406h1v1h-1zM699 402h1v3h-1zM700 400h1v2h-1zM701 397h1v3h-1zM702 394h1v3h-1zM703 392h1v2h-1zM704 391h1v1h-1zM705 390h1v1h-1zM706 388h1v2h-1zM707 387h1v1h-1zM714 382h1v2h-1zM715 381h1v1h-1zM716 379h1v2h-1zM717 377h1v2h-1zM718 376h1v1h-1zM719 377h1v1h-1zM722 379h1v1h-1zM723 380h1v1h-1zM724 381h1v1h-1zM725 382h1v1h-1zM726 383h1v2h-1zM727 385h1v1h-1zM744 384h1v1h-1zM745 385h1v1h-1zM746 386h1v1h-1zM747 387h1v1h-1zM748 388h1v1h-1zM749 389h1v1h-1zM752 391h1v1h-1zM753 392h1v1h-1zM754 390h1v2h-1zM755 389h1v1h-1zM756 388h1v1h-1zM757 386h1v2h-1zM768 390h1v1h-1zM769 389h1v1h-1zM770 388h1v1h-1zM771 386h1v2h-1zM772 385h1v1h-1zM773 384h1v1h-1zM774 385h1v2h-1zM775 387h1v1h-1zM776 388h1v1h-1zM777 389h1v2h-1zM778 391h1v1h-1zM783 394h1v1h-1z"/>
<path fill="#27a8e6" d="M97 510h2v1h-2zM108 487h2v1h-2zM110 486h2v1h-2zM112 485h2v1h-2zM152 505h2v1h-2zM158 488h2v1h-2zM198 452h2v1h-2zM200 453h2v1h-2zM202 454h2v1h-2zM220 481h2v1h-2zM234 485h2v1h-2zM236 486h2v1h-2zM253 457h2v1h-2zM255 456h2v1h-2zM257 455h2v1h-2zM259 454h2v1h-2zM261 453h2v1h-2zM268 460h2v1h-2zM270 459h2v1h-2zM272 458h2v1h-2zM278 466h2v1h-2zM280 465h2v1h-2zM282 464h7v1h-7zM305 462h2v1h-2zM333 511h2v1h-2zM335 512h2v1h-2zM337 513h7v1h-7zM348 506h2v1h-2zM350 507h2v1h-2zM352 508h2v1h-2zM373 492h2v1h-2zM383 506h2v1h-2zM385 505h2v1h-2zM387 504h2v1h-2zM398 480h2v1h-2zM403 489h2v1h-2zM405 490h2v1h-2zM407 491h2v1h-2zM432 470h2v1h-2zM438 489h3v1h-3zM441 490h3v1h-3zM459 494h2v1h-2zM461 493h2v1h-2zM468 499h7v1h-7zM475 500h2v1h-2zM477 501h7v1h-7zM490 497h2v1h-2zM503 485h2v1h-2zM505 486h2v1h-2zM507 487h2v1h-2zM523 477h3v1h-3zM526 476h3v1h-3zM540 452h2v1h-2zM543 450h2v1h-2zM545 451h2v1h-2zM547 452h4v1h-4zM551 453h8v1h-8zM563 463h2v1h-2zM565 462h2v1h-2zM568 460h2v1h-2zM570 461h2v1h-2zM572 462h2v1h-2zM574 463h2v1h-2zM576 464h2v1h-2zM595 513h2v1h-2zM597 514h2v1h-2zM604 500h2v1h-2zM606 499h2v1h-2zM615 491h2v1h-2zM619 488h2v1h-2zM621 487h2v1h-2zM635 458h2v1h-2zM640 454h2v1h-2zM642 453h2v1h-2zM650 467h2v1h-2zM654 470h2v1h-2zM656 471h2v1h-2zM678 505h2v1h-2zM680 504h2v1h-2zM682 503h7v1h-7zM693 493h2v1h-2zM695 492h2v1h-2zM697 491h2v1h-2zM718 451h6v1h-6zM733 464h2v1h-2zM735 465h2v1h-2zM737 466h2v1h-2zM739 467h2v1h-2zM741 468h2v1h-2zM753 500h2v1h-2zM755 499h2v1h-2zM758 497h3v1h-3zM761 496h3v1h-3zM764 497h2v1h-2zM766 498h2v1h-2zM93 504h1v1h-1zM94 505h1v2h-1zM95 507h1v1h-1zM96 508h1v1h-1zM97 509h1v1h-1zM98 511h1v1h-1zM99 507h1v3h-1zM100 505h1v2h-1zM101 502h1v3h-1zM102 499h1v3h-1zM103 497h1v2h-1zM104 495h1v2h-1zM105 493h1v2h-1zM106 491h1v2h-1zM107 489h1v2h-1zM108 488h1v1h-1zM113 484h1v1h-1zM114 480h1v4h-1zM115 477h1v3h-1zM116 473h1v4h-1zM117 469h1v4h-1zM118 466h1v3h-1zM119 464h1v2h-1zM120 461h1v3h-1zM121 458h1v3h-1zM122 456h1v2h-1zM123 454h1v2h-1zM124 456h1v2h-1zM125 458h1v2h-1zM126 460h1v2h-1zM127 462h1v2h-1zM128 464h1v2h-1zM129 466h1v2h-1zM130 468h1v1h-1zM131 469h1v1h-1zM132 470h1v2h-1zM133 472h1v1h-1zM134 473h1v2h-1zM135 475h1v1h-1zM136 476h1v1h-1zM137 477h1v2h-1zM138 479h1v1h-1zM139 480h1v1h-1zM140 481h1v1h-1zM141 482h1v1h-1zM142 483h1v1h-1zM143 484h1v2h-1zM144 486h1v2h-1zM145 488h1v3h-1zM146 491h1v3h-1zM147 494h1v2h-1zM148 496h1v2h-1zM149 498h1v2h-1zM150 500h1v2h-1zM151 502h1v2h-1zM152 504h1v1h-1zM153 506h1v1h-1zM154 501h1v4h-1zM155 497h1v4h-1zM156 493h1v4h-1zM157 489h1v4h-1zM158 487h1v1h-1zM159 489h1v1h-1zM160 490h1v1h-1zM161 491h1v1h-1zM162 492h1v2h-1zM163 494h1v1h-1zM164 495h1v1h-1zM165 496h1v1h-1zM166 497h1v1h-1zM167 498h1v1h-1zM168 499h1v1h-1zM169 500h1v2h-1zM170 502h1v1h-1zM171 503h1v1h-1zM172 504h1v2h-1zM173 506h1v1h-1zM174 504h1v2h-1zM175 502h1v2h-1zM176 500h1v2h-1zM177 498h1v2h-1zM178 497h1v1h-1zM179 495h1v2h-1zM180 494h1v1h-1zM181 493h1v1h-1zM182 491h1v2h-1zM183 488h1v3h-1zM184 483h1v5h-1zM185 478h1v5h-1zM186 472h1v6h-1zM187 467h1v5h-1zM188 464h1v3h-1zM189 462h1v2h-1zM190 461h1v1h-1zM191 460h1v1h-1zM192 458h1v2h-1zM193 457h1v1h-1zM194 456h1v1h-1zM195 455h1v1h-1zM196 454h1v1h-1zM197 453h1v1h-1zM204 455h1v2h-1zM205 457h1v1h-1zM206 458h1v2h-1zM207 460h1v2h-1zM208 462h1v1h-1zM209 463h1v2h-1zM210 465h1v2h-1zM211 467h1v2h-1zM212 469h1v2h-1zM213 471h1v1h-1zM214 472h1v2h-1zM215 474h1v1h-1zM216 475h1v2h-1zM217 477h1v2h-1zM218 479h1v1h-1zM219 480h1v1h-1zM222 482h1v1h-1zM223 483h1v1h-1zM224 484h1v1h-1zM225 485h1v1h-1zM226 486h1v2h-1zM227 488h1v1h-1zM228 489h1v1h-1zM229 488h1v1h-1zM230 487h1v1h-1zM231 486h1v1h-1zM232 485h1v1h-1zM233 484h1v1h-1zM238 487h1v1h-1zM239 486h1v1h-1zM240 485h1v1h-1zM241 483h1v2h-1zM242 482h1v1h-1zM243 480h1v2h-1zM244 477h1v3h-1zM245 475h1v2h-1zM246 472h1v3h-1zM247 469h1v3h-1zM248 467h1v2h-1zM249 465h1v2h-1zM250 463h1v2h-1zM251 461h1v2h-1zM252 459h1v2h-1zM253 458h1v1h-1zM263 452h1v1h-1zM264 453h1v2h-1zM265 455h1v1h-1zM266 456h1v2h-1zM267 458h1v2h-1zM274 459h1v2h-1zM275 461h1v1h-1zM276 462h1v2h-1zM277 464h1v2h-1zM289 463h1v1h-1zM290 462h1v1h-1zM291 461h1v1h-1zM292 460h1v1h-1zM293 459h1v1h-1zM294 460h1v2h-1zM295 462h1v1h-1zM296 463h1v2h-1zM297 465h1v2h-1zM298 467h1v1h-1zM299 465h1v2h-1zM300 464h1v1h-1zM301 463h1v1h-1zM302 461h1v2h-1zM303 460h1v1h-1zM304 461h1v1h-1zM307 463h1v1h-1zM308 464h1v1h-1zM309 465h1v1h-1zM310 466h1v1h-1zM311 467h1v2h-1zM312 469h1v1h-1zM313 470h1v1h-1zM314 471h1v2h-1zM315 473h1v1h-1zM316 474h1v1h-1zM317 475h1v2h-1zM318 477h1v1h-1zM319 478h1v2h-1zM320 480h1v2h-1zM321 482h1v2h-1zM322 484h1v2h-1zM323 486h1v2h-1zM324 488h1v2h-1zM325 490h1v2h-1zM326 492h1v2h-1zM327 494h1v2h-1zM328 496h1v3h-1zM329 499h1v3h-1zM330 502h1v2h-1zM331 504h1v3h-1zM332 507h1v3h-1zM333 510h1v1h-1zM344 511h1v2h-1zM345 510h1v1h-1zM346 509h1v1h-1zM347 507h1v2h-1zM354 507h1v1h-1zM355 506h1v1h-1zM356 505h1v1h-1zM357 504h1v1h-1zM358 503h1v1h-1zM359 501h1v2h-1zM360 500h1v1h-1zM361 499h1v1h-1zM362 497h1v2h-1zM363 496h1v1h-1zM364 497h1v1h-1zM365 498h1v1h-1zM366 499h1v1h-1zM367 500h1v1h-1zM368 501h1v1h-1zM369 499h1v2h-1zM370 497h1v2h-1zM371 495h1v2h-1zM372 493h1v2h-1zM373 491h1v1h-1zM374 493h1v1h-1zM375 494h1v2h-1zM376 496h1v2h-1zM377 498h1v2h-1zM378 500h1v1h-1zM379 501h1v1h-1zM380 502h1v1h-1zM381 503h1v2h-1zM382 505h1v1h-1zM388 503h1v1h-1zM389 500h1v3h-1zM390 498h1v2h-1zM391 495h1v3h-1zM392 492h1v3h-1zM393 489h1v3h-1zM394 487h1v2h-1zM395 485h1v2h-1zM396 483h1v2h-1zM397 481h1v2h-1zM398 479h1v1h-1zM399 481h1v1h-1zM400 482h1v2h-1zM401 484h1v2h-1zM402 486h1v2h-1zM403 488h1v1h-1zM409 492h1v2h-1zM410 494h1v2h-1zM411 496h1v2h-1zM412 498h1v2h-1zM413 500h1v1h-1zM414 498h1v2h-1zM415 497h1v1h-1zM416 495h1v2h-1zM417 493h1v2h-1zM418 492h1v1h-1zM419 490h1v2h-1zM420 489h1v1h-1zM421 488h1v1h-1zM422 486h1v2h-1zM423 485h1v1h-1zM424 483h1v2h-1zM425 482h1v1h-1zM426 480h1v2h-1zM427 478h1v2h-1zM428 477h1v1h-1zM429 475h1v2h-1zM430 474h1v1h-1zM431 472h1v2h-1zM432 471h1v1h-1zM433 469h1v1h-1zM434 471h1v4h-1zM435 475h1v4h-1zM436 479h1v4h-1zM437 483h1v4h-1zM438 487h1v2h-1zM444 491h1v2h-1zM445 493h1v2h-1zM446 495h1v2h-1zM447 497h1v2h-1zM448 499h1v2h-1zM449 501h1v1h-1zM450 502h1v1h-1zM451 503h1v1h-1zM452 504h1v1h-1zM453 505h1v1h-1zM454 503h1v2h-1zM455 501h1v2h-1zM456 499h1v2h-1zM457 497h1v2h-1zM458 495h1v2h-1zM463 492h1v1h-1zM464 493h1v2h-1zM465 495h1v1h-1zM466 496h1v1h-1zM467 497h1v2h-1zM484 500h1v1h-1zM485 499h1v1h-1zM486 497h1v2h-1zM487 496h1v1h-1zM488 495h1v1h-1zM489 496h1v1h-1zM492 498h1v1h-1zM493 499h1v1h-1zM494 498h1v1h-1zM495 497h1v1h-1zM496 495h1v2h-1zM497 494h1v1h-1zM498 493h1v1h-1zM499 491h1v2h-1zM500 490h1v1h-1zM501 488h1v2h-1zM502 486h1v2h-1zM509 485h1v2h-1zM510 483h1v2h-1zM511 481h1v2h-1zM512 479h1v2h-1zM513 477h1v2h-1zM514 475h1v2h-1zM515 473h1v2h-1zM516 471h1v2h-1zM517 469h1v2h-1zM518 468h1v1h-1zM519 469h1v2h-1zM520 471h1v2h-1zM521 473h1v2h-1zM522 475h1v2h-1zM528 475h1v1h-1zM529 472h1v3h-1zM530 469h1v3h-1zM531 465h1v4h-1zM532 462h1v3h-1zM533 460h1v2h-1zM534 459h1v1h-1zM535 458h1v1h-1zM536 456h1v2h-1zM537 455h1v1h-1zM538 454h1v1h-1zM539 453h1v1h-1zM542 451h1v1h-1zM558 454h1v1h-1zM559 455h1v2h-1zM560 457h1v2h-1zM561 459h1v2h-1zM562 461h1v2h-1zM563 464h1v1h-1zM567 461h1v1h-1zM578 465h1v4h-1zM579 469h1v6h-1zM580 475h1v6h-1zM581 481h1v7h-1zM582 488h1v6h-1zM583 494h1v4h-1zM584 498h1v2h-1zM585 500h1v2h-1zM586 502h1v2h-1zM587 504h1v2h-1zM588 506h1v1h-1zM589 507h1v1h-1zM590 508h1v1h-1zM591 509h1v1h-1zM592 510h1v1h-1zM593 511h1v1h-1zM594 512h1v1h-1zM598 515h1v1h-1zM599 511h1v3h-1zM600 509h1v2h-1zM601 506h1v3h-1zM602 503h1v3h-1zM603 501h1v2h-1zM608 498h1v1h-1zM609 497h1v1h-1zM610 496h1v1h-1zM611 495h1v1h-1zM612 494h1v1h-1zM613 493h1v1h-1zM614 492h1v1h-1zM617 490h1v1h-1zM618 489h1v1h-1zM623 486h1v1h-1zM624 484h1v2h-1zM625 482h1v2h-1zM626 480h1v2h-1zM627 478h1v2h-1zM628 476h1v2h-1zM629 472h1v4h-1zM630 469h1v3h-1zM631 466h1v3h-1zM632 462h1v4h-1zM633 460h1v2h-1zM634 459h1v1h-1zM637 457h1v1h-1zM638 456h1v1h-1zM639 455h1v1h-1zM643 452h1v1h-1zM644 454h1v2h-1zM645 456h1v3h-1zM646 459h1v3h-1zM647 462h1v2h-1zM648 464h1v2h-1zM649 466h1v1h-1zM652 468h1v1h-1zM653 469h1v1h-1zM658 472h1v2h-1zM659 474h1v3h-1zM660 477h1v2h-1zM661 479h1v3h-1zM662 482h1v3h-1zM663 485h1v3h-1zM664 488h1v4h-1zM665 492h1v3h-1zM666 495h1v3h-1zM667 498h1v4h-1zM668 502h1v2h-1zM669 504h1v2h-1zM670 506h1v2h-1zM671 508h1v2h-1zM672 510h1v2h-1zM673 512h1v1h-1zM674 510h1v2h-1zM675 509h1v1h-1zM676 508h1v1h-1zM677 506h1v2h-1zM689 501h1v2h-1zM690 499h1v2h-1zM691 497h1v2h-1zM692 495h1v2h-1zM693 494h1v1h-1zM698 490h1v1h-1zM699 488h1v2h-1zM700 486h1v2h-1zM701 483h1v3h-1zM702 481h1v2h-1zM703 478h1v3h-1zM704 474h1v4h-1zM705 471h1v3h-1zM706 468h1v3h-1zM707 464h1v4h-1zM708 462h1v2h-1zM709 461h1v1h-1zM710 460h1v1h-1zM711 459h1v1h-1zM712 458h1v1h-1zM713 457h1v1h-1zM714 456h1v1h-1zM715 455h1v1h-1zM716 453h1v2h-1zM717 452h1v1h-1zM724 452h1v2h-1zM725 454h1v1h-1zM726 455h1v1h-1zM727 456h1v2h-1zM728 458h1v1h-1zM729 459h1v1h-1zM730 460h1v1h-1zM731 461h1v2h-1zM732 463h1v1h-1zM743 469h1v2h-1zM744 471h1v3h-1zM745 474h1v3h-1zM746 477h1v4h-1zM747 481h1v3h-1zM748 484h1v3h-1zM749 487h1v3h-1zM750 490h1v3h-1zM751 493h1v4h-1zM752 497h1v3h-1zM753 501h1v1h-1zM757 498h1v1h-1zM768 499h1v1h-1zM769 497h1v2h-1zM770 496h1v1h-1zM771 495h1v1h-1zM772 493h1v2h-1zM773 492h1v1h-1zM774 493h1v1h-1zM775 494h1v1h-1zM776 495h1v1h-1zM777 496h1v1h-1zM778 497h1v1h-1zM779 498h1v2h-1zM780 500h1v1h-1zM781 501h1v2h-1zM782 503h1v2h-1zM783 505h1v1h-1z"/>
<path fill="#2f80f5" d="M103 492h2v1h-2zM105 491h2v1h-2zM107 490h2v1h-2zM110 488h2v1h-2zM123 473h2v1h-2zM125 474h2v1h-2zM127 475h3v1h-3zM130 476h2v1h-2zM132 477h3v1h-3zM135 478h2v1h-2zM137 479h3v1h-3zM140 480h2v1h-2zM142 481h2v1h-2zM158 487h2v1h-2zM160 488h2v1h-2zM162 489h2v1h-2zM164 490h2v1h-2zM166 491h2v1h-2zM170 494h2v1h-2zM173 496h2v1h-2zM175 495h2v1h-2zM177 494h2v1h-2zM179 493h2v1h-2zM181 492h2v1h-2zM199 469h2v1h-2zM201 468h2v1h-2zM203 467h2v1h-2zM205 468h2v1h-2zM207 469h2v1h-2zM209 470h2v1h-2zM211 471h2v1h-2zM215 474h2v1h-2zM219 477h2v1h-2zM221 478h2v1h-2zM224 480h2v1h-2zM226 481h2v1h-2zM228 482h8v1h-8zM236 483h3v1h-3zM239 482h2v1h-2zM241 481h2v1h-2zM254 468h2v1h-2zM256 467h2v1h-2zM258 466h2v1h-2zM260 465h2v1h-2zM262 464h13v1h-13zM275 465h2v1h-2zM277 466h4v1h-4zM281 465h5v1h-5zM286 464h5v1h-5zM291 463h3v1h-3zM294 464h2v1h-2zM296 465h2v1h-2zM298 466h2v1h-2zM300 465h2v1h-2zM302 464h7v1h-7zM309 465h2v1h-2zM311 466h2v1h-2zM315 469h2v1h-2zM335 493h2v1h-2zM338 495h2v1h-2zM340 496h2v1h-2zM342 497h4v1h-4zM346 496h5v1h-5zM351 497h10v1h-10zM361 496h3v1h-3zM364 497h2v1h-2zM366 498h2v1h-2zM374 495h2v1h-2zM376 496h2v1h-2zM379 498h2v1h-2zM381 499h2v1h-2zM383 500h6v1h-6zM398 489h2v1h-2zM400 490h2v1h-2zM402 491h4v1h-4zM406 492h3v1h-3zM410 494h2v1h-2zM413 496h2v1h-2zM415 495h2v1h-2zM417 494h2v1h-2zM420 492h2v1h-2zM425 488h2v1h-2zM430 484h2v1h-2zM438 489h6v1h-6zM449 495h2v1h-2zM451 496h2v1h-2zM453 497h2v1h-2zM455 496h2v1h-2zM457 495h2v1h-2zM459 494h2v1h-2zM461 493h2v1h-2zM465 494h2v1h-2zM468 496h3v1h-3zM471 497h5v1h-5zM476 498h9v1h-9zM485 497h2v1h-2zM487 496h3v1h-3zM490 497h2v1h-2zM492 498h3v1h-3zM495 497h2v1h-2zM497 496h2v1h-2zM500 494h2v1h-2zM503 492h3v1h-3zM506 491h3v1h-3zM515 484h2v1h-2zM518 482h3v1h-3zM521 483h4v1h-4zM525 482h2v1h-2zM527 481h2v1h-2zM535 472h2v1h-2zM540 468h2v1h-2zM543 466h2v1h-2zM545 465h2v1h-2zM547 464h4v1h-4zM551 463h5v1h-5zM556 462h3v1h-3zM559 463h2v1h-2zM561 464h2v1h-2zM564 464h2v1h-2zM566 463h2v1h-2zM568 462h3v1h-3zM571 463h4v1h-4zM575 464h2v1h-2zM577 465h2v1h-2zM600 494h2v1h-2zM603 492h7v1h-7zM610 491h2v1h-2zM612 490h4v1h-4zM616 489h4v1h-4zM620 488h2v1h-2zM622 487h2v1h-2zM634 474h2v1h-2zM636 473h2v1h-2zM640 470h2v1h-2zM644 469h2v1h-2zM646 470h2v1h-2zM648 471h3v1h-3zM651 472h8v1h-8zM673 492h3v1h-3zM676 493h5v1h-5zM681 494h5v1h-5zM686 495h3v1h-3zM689 494h2v1h-2zM691 493h2v1h-2zM693 492h3v1h-3zM696 491h3v1h-3zM715 470h2v1h-2zM718 468h2v1h-2zM720 467h2v1h-2zM722 466h4v1h-4zM726 467h5v1h-5zM731 468h10v1h-10zM741 469h3v1h-3zM753 484h3v1h-3zM756 485h5v1h-5zM761 486h3v1h-3zM764 487h2v1h-2zM766 488h2v1h-2zM768 489h2v1h-2zM770 488h2v1h-2zM772 487h2v1h-2zM775 489h2v1h-2zM779 492h2v1h-2zM781 493h2v1h-2zM93 492h1v1h-1zM94 493h1v1h-1zM95 494h1v1h-1zM96 495h1v1h-1zM97 496h1v1h-1zM98 497h1v1h-1zM99 496h1v1h-1zM100 495h1v1h-1zM101 494h1v1h-1zM102 493h1v1h-1zM109 489h1v1h-1zM112 487h1v1h-1zM113 486h1v1h-1zM114 484h1v2h-1zM115 483h1v1h-1zM116 482h1v1h-1zM117 480h1v2h-1zM118 479h1v1h-1zM119 478h1v1h-1zM120 477h1v1h-1zM121 475h1v2h-1zM122 474h1v1h-1zM144 482h1v1h-1zM145 483h1v1h-1zM146 484h1v2h-1zM147 486h1v1h-1zM148 487h1v1h-1zM149 488h1v1h-1zM150 489h1v1h-1zM151 490h1v1h-1zM152 491h1v1h-1zM153 492h1v1h-1zM154 491h1v1h-1zM155 490h1v1h-1zM156 489h1v1h-1zM157 488h1v1h-1zM168 492h1v1h-1zM169 493h1v1h-1zM172 495h1v1h-1zM183 491h1v1h-1zM184 489h1v2h-1zM185 487h1v2h-1zM186 485h1v2h-1zM187 483h1v2h-1zM188 481h1v2h-1zM189 480h1v1h-1zM190 479h1v1h-1zM191 477h1v2h-1zM192 476h1v1h-1zM193 475h1v1h-1zM194 474h1v1h-1zM195 473h1v1h-1zM196 472h1v1h-1zM197 471h1v1h-1zM198 470h1v1h-1zM213 472h1v1h-1zM214 473h1v1h-1zM217 475h1v1h-1zM218 476h1v1h-1zM223 479h1v1h-1zM243 480h1v1h-1zM244 479h1v1h-1zM245 478h1v1h-1zM246 477h1v1h-1zM247 476h1v1h-1zM248 475h1v1h-1zM249 474h1v1h-1zM250 473h1v1h-1zM251 471h1v2h-1zM252 470h1v1h-1zM253 469h1v1h-1zM313 467h1v1h-1zM314 468h1v1h-1zM317 470h1v1h-1zM318 471h1v1h-1zM319 472h1v1h-1zM320 473h1v1h-1zM321 474h1v1h-1zM322 475h1v1h-1zM323 476h1v1h-1zM324 477h1v2h-1zM325 479h1v1h-1zM326 480h1v2h-1zM327 482h1v2h-1zM328 484h1v1h-1zM329 485h1v2h-1zM330 487h1v1h-1zM331 488h1v1h-1zM332 489h1v2h-1zM333 491h1v1h-1zM334 492h1v1h-1zM337 494h1v1h-1zM368 499h1v1h-1zM369 498h1v1h-1zM370 497h1v1h-1zM371 496h1v1h-1zM372 495h1v1h-1zM373 494h1v1h-1zM378 497h1v1h-1zM389 499h1v1h-1zM390 498h1v1h-1zM391 497h1v1h-1zM392 496h1v1h-1zM393 495h1v1h-1zM394 494h1v1h-1zM395 493h1v1h-1zM396 491h1v2h-1zM397 490h1v1h-1zM409 493h1v1h-1zM412 495h1v1h-1zM419 493h1v1h-1zM422 491h1v1h-1zM423 490h1v1h-1zM424 489h1v1h-1zM427 487h1v1h-1zM428 486h1v1h-1zM429 485h1v1h-1zM432 483h1v1h-1zM433 482h1v1h-1zM434 483h1v2h-1zM435 485h1v1h-1zM436 486h1v1h-1zM437 487h1v2h-1zM444 490h1v1h-1zM445 491h1v1h-1zM446 492h1v1h-1zM447 493h1v1h-1zM448 494h1v1h-1zM463 492h1v1h-1zM464 493h1v1h-1zM467 495h1v1h-1zM499 495h1v1h-1zM502 493h1v1h-1zM509 490h1v1h-1zM510 489h1v1h-1zM511 488h1v1h-1zM512 487h1v1h-1zM513 486h1v1h-1zM514 485h1v1h-1zM517 483h1v1h-1zM529 479h1v2h-1zM530 478h1v1h-1zM531 477h1v1h-1zM532 475h1v2h-1zM533 474h1v1h-1zM534 473h1v1h-1zM537 471h1v1h-1zM538 470h1v1h-1zM539 469h1v1h-1zM542 467h1v1h-1zM563 465h1v1h-1zM579 466h1v2h-1zM580 468h1v2h-1zM581 470h1v2h-1zM582 472h1v2h-1zM583 474h1v2h-1zM584 476h1v2h-1zM585 478h1v2h-1zM586 480h1v2h-1zM587 482h1v2h-1zM588 484h1v1h-1zM589 485h1v1h-1zM590 486h1v1h-1zM591 487h1v2h-1zM592 489h1v1h-1zM593 490h1v1h-1zM594 491h1v1h-1zM595 492h1v1h-1zM596 493h1v2h-1zM597 495h1v1h-1zM598 496h1v1h-1zM599 495h1v1h-1zM602 493h1v1h-1zM624 486h1v1h-1zM625 485h1v1h-1zM626 484h1v1h-1zM627 483h1v1h-1zM628 482h1v1h-1zM629 480h1v2h-1zM630 479h1v1h-1zM631 478h1v1h-1zM632 476h1v2h-1zM633 475h1v1h-1zM638 472h1v1h-1zM639 471h1v1h-1zM642 469h1v1h-1zM643 468h1v1h-1zM659 473h1v1h-1zM660 474h1v1h-1zM661 475h1v2h-1zM662 477h1v1h-1zM663 478h1v1h-1zM664 479h1v2h-1zM665 481h1v1h-1zM666 482h1v2h-1zM667 484h1v2h-1zM668 486h1v1h-1zM669 487h1v1h-1zM670 488h1v1h-1zM671 489h1v2h-1zM672 491h1v1h-1zM699 490h1v1h-1zM700 489h1v1h-1zM701 487h1v2h-1zM702 486h1v1h-1zM703 485h1v1h-1zM704 483h1v2h-1zM705 482h1v1h-1zM706 480h1v2h-1zM707 478h1v2h-1zM708 477h1v1h-1zM709 476h1v1h-1zM710 475h1v1h-1zM711 474h1v1h-1zM712 473h1v1h-1zM713 472h1v1h-1zM714 471h1v1h-1zM717 469h1v1h-1zM744 470h1v2h-1zM745 472h1v1h-1zM746 473h1v2h-1zM747 475h1v2h-1zM748 477h1v1h-1zM749 478h1v2h-1zM750 480h1v1h-1zM751 481h1v1h-1zM752 482h1v2h-1zM774 488h1v1h-1zM777 490h1v1h-1zM778 491h1v1h-1zM783 494h1v1h-1z"/>
<path fill="#3cc486" d="M94 487h2v1h-2zM96 488h2v1h-2zM98 489h2v1h-2zM100 490h2v1h-2zM102 491h8v1h-8zM110 490h2v1h-2zM112 489h2v1h-2zM114 488h2v1h-2zM116 487h2v1h-2zM120 484h2v1h-2zM124 481h2v1h-2zM126 480h2v1h-2zM128 479h13v1h-13zM141 480h4v1h-4zM145 481h2v1h-2zM147 482h2v1h-2zM150 484h2v1h-2zM153 486h3v1h-3zM156 487h9v1h-9zM165 488h2v1h-2zM167 489h3v1h-3zM170 490h2v1h-2zM172 491h4v1h-4zM176 492h8v1h-8zM185 490h2v1h-2zM190 486h2v1h-2zM199 478h2v1h-2zM201 477h2v1h-2zM203 476h2v1h-2zM205 475h2v1h-2zM207 474h4v1h-4zM211 473h5v1h-5zM216 474h4v1h-4zM220 475h2v1h-2zM222 476h3v1h-3zM225 477h2v1h-2zM227 478h8v1h-8zM235 479h2v1h-2zM237 480h4v1h-4zM241 479h4v1h-4zM245 478h2v1h-2zM247 477h2v1h-2zM249 476h2v1h-2zM251 475h2v1h-2zM254 473h2v1h-2zM256 472h2v1h-2zM258 471h2v1h-2zM260 470h2v1h-2zM262 469h3v1h-3zM265 468h2v1h-2zM267 467h4v1h-4zM271 466h15v1h-15zM286 465h5v1h-5zM291 464h5v1h-5zM296 465h5v1h-5zM301 464h9v1h-9zM310 465h2v1h-2zM312 466h3v1h-3zM315 467h2v1h-2zM317 468h2v1h-2zM319 469h2v1h-2zM321 470h2v1h-2zM339 488h2v1h-2zM341 489h2v1h-2zM343 490h2v1h-2zM345 491h2v1h-2zM347 492h3v1h-3zM350 493h2v1h-2zM352 494h4v1h-4zM356 495h10v1h-10zM366 496h15v1h-15zM381 497h5v1h-5zM386 498h5v1h-5zM391 497h3v1h-3zM394 496h2v1h-2zM396 495h2v1h-2zM398 494h3v1h-3zM401 493h5v1h-5zM406 492h4v1h-4zM410 493h2v1h-2zM412 494h8v1h-8zM420 493h2v1h-2zM422 492h3v1h-3zM425 491h2v1h-2zM427 490h2v1h-2zM429 489h2v1h-2zM431 488h2v1h-2zM433 487h8v1h-8zM441 488h4v1h-4zM445 489h2v1h-2zM447 490h3v1h-3zM450 491h2v1h-2zM452 492h4v1h-4zM456 493h5v1h-5zM461 492h4v1h-4zM465 493h2v1h-2zM467 494h4v1h-4zM471 495h5v1h-5zM476 496h5v1h-5zM481 497h5v1h-5zM486 496h5v1h-5zM491 497h5v1h-5zM496 496h5v1h-5zM501 495h5v1h-5zM506 494h3v1h-3zM509 493h2v1h-2zM511 492h2v1h-2zM514 490h2v1h-2zM516 489h2v1h-2zM518 488h2v1h-2zM520 487h2v1h-2zM522 486h3v1h-3zM525 485h2v1h-2zM527 484h2v1h-2zM529 483h2v1h-2zM531 482h2v1h-2zM535 479h2v1h-2zM539 476h2v1h-2zM541 475h2v1h-2zM545 472h2v1h-2zM548 470h2v1h-2zM550 469h2v1h-2zM552 468h3v1h-3zM555 467h2v1h-2zM557 466h4v1h-4zM561 465h5v1h-5zM566 464h13v1h-13zM580 466h2v1h-2zM599 485h2v1h-2zM601 486h2v1h-2zM603 487h2v1h-2zM605 488h2v1h-2zM607 489h9v1h-9zM616 490h5v1h-5zM621 489h4v1h-4zM625 488h2v1h-2zM627 487h2v1h-2zM630 485h2v1h-2zM635 481h2v1h-2zM639 478h2v1h-2zM641 477h2v1h-2zM643 476h2v1h-2zM645 475h2v1h-2zM647 474h14v1h-14zM661 475h3v1h-3zM665 477h2v1h-2zM670 481h2v1h-2zM674 484h2v1h-2zM676 485h2v1h-2zM679 487h2v1h-2zM681 488h2v1h-2zM683 489h2v1h-2zM685 490h2v1h-2zM687 491h13v1h-13zM700 490h2v1h-2zM702 489h2v1h-2zM705 487h2v1h-2zM710 483h2v1h-2zM715 479h2v1h-2zM719 476h2v1h-2zM721 475h2v1h-2zM723 474h2v1h-2zM725 473h2v1h-2zM727 472h3v1h-3zM730 471h2v1h-2zM732 470h13v1h-13zM745 471h2v1h-2zM747 472h2v1h-2zM750 474h2v1h-2zM754 477h2v1h-2zM756 478h2v1h-2zM758 479h2v1h-2zM760 480h2v1h-2zM762 481h2v1h-2zM764 482h2v1h-2zM766 483h2v1h-2zM768 484h3v1h-3zM771 485h4v1h-4zM775 486h2v1h-2zM777 487h3v1h-3zM780 488h2v1h-2zM782 489h2v1h-2zM93 486h1v1h-1zM118 486h1v1h-1zM119 485h1v1h-1zM122 483h1v1h-1zM123 482h1v1h-1zM149 483h1v1h-1zM152 485h1v1h-1zM184 491h1v1h-1zM187 489h1v1h-1zM188 488h1v1h-1zM189 487h1v1h-1zM192 485h1v1h-1zM193 484h1v1h-1zM194 483h1v1h-1zM195 482h1v1h-1zM196 481h1v1h-1zM197 480h1v1h-1zM198 479h1v1h-1zM253 474h1v1h-1zM323 471h1v1h-1zM324 472h1v1h-1zM325 473h1v1h-1zM326 474h1v1h-1zM327 475h1v1h-1zM328 476h1v1h-1zM329 477h1v1h-1zM330 478h1v1h-1zM331 479h1v2h-1zM332 481h1v1h-1zM333 482h1v1h-1zM334 483h1v1h-1zM335 484h1v1h-1zM336 485h1v1h-1zM337 486h1v1h-1zM338 487h1v1h-1zM513 491h1v1h-1zM533 481h1v1h-1zM534 480h1v1h-1zM537 478h1v1h-1zM538 477h1v1h-1zM543 474h1v1h-1zM544 473h1v1h-1zM547 471h1v1h-1zM579 465h1v1h-1zM582 467h1v1h-1zM583 468h1v1h-1zM584 469h1v1h-1zM585 470h1v1h-1zM586 471h1v1h-1zM587 472h1v1h-1zM588 473h1v1h-1zM589 474h1v1h-1zM590 475h1v1h-1zM591 476h1v1h-1zM592 477h1v1h-1zM593 478h1v1h-1zM594 479h1v1h-1zM595 480h1v1h-1zM596 481h1v2h-1zM597 483h1v1h-1zM598 484h1v1h-1zM629 486h1v1h-1zM632 484h1v1h-1zM633 483h1v1h-1zM634 482h1v1h-1zM637 480h1v1h-1zM638 479h1v1h-1zM664 476h1v1h-1zM667 478h1v1h-1zM668 479h1v1h-1zM669 480h1v1h-1zM672 482h1v1h-1zM673 483h1v1h-1zM678 486h1v1h-1zM704 488h1v1h-1zM707 486h1v1h-1zM708 485h1v1h-1zM709 484h1v1h-1zM712 482h1v1h-1zM713 481h1v1h-1zM714 480h1v1h-1zM717 478h1v1h-1zM718 477h1v1h-1zM749 473h1v1h-1zM752 475h1v1h-1zM753 476h1v1h-1z"/>
<g fill="#c5ccd6"><rect x="153" y="517" width="1" height="5"/><rect x="258" y="517" width="1" height="5"/><rect x="368" y="517" width="1" height="5"/><rect x="468" y="517" width="1" height="5"/><rect x="573" y="517" width="1" height="5"/><rect x="678" y="517" width="1" height="5"/></g>
<rect x="844.5" y="249.5" width="68" height="17" fill="#fff" stroke="#ff8000"/>
<path d="M908 241L912 245H904ZM908 245.3L912 249.5H904Z" fill="#ff8000" shape-rendering="geometricPrecision"/>
<g fill="#fff" stroke="#1b7bd6"><rect x="781.5" y="1.5" width="13" height="13"/><rect x="797.5" y="1.5" width="13" height="13"/><rect x="813.5" y="1.5" width="13" height="13"/><rect x="829.5" y="1.5" width="13" height="13"/></g>
<g fill="#1b7bd6">
<rect x="787" y="3" width="2" height="2"/><rect x="787" y="7" width="2" height="2"/><rect x="787" y="11" width="2" height="2"/><rect x="783" y="7" width="3" height="2"/><rect x="790" y="7" width="3" height="2"/>
<rect x="800" y="3" width="1" height="10"/><rect x="799" y="4" width="3" height="1"/><rect x="799" y="11" width="10" height="1"/><rect x="807" y="10" width="1" height="3"/><rect x="803" y="4" width="1" height="6"/><path d="M807.2 4.300V9.900L804.2 7.1Z" shape-rendering="geometricPrecision"/>
<rect x="816" y="3" width="1" height="10"/><rect x="815" y="4" width="3" height="1"/><rect x="815" y="11" width="10" height="1"/><rect x="823" y="10" width="1" height="3"/><path d="M818.5 3.5V11L824.5 7.300Z" shape-rendering="geometricPrecision"/>
<path d="M831 3H835V6H834V4H832V12H834V10H835V13H831Z"/><rect x="834" y="7" width="4" height="2"/><path d="M838 4.6L841.2 7.8L838 11Z" shape-rendering="geometricPrecision"/>
</g>
<g shape-rendering="geometricPrecision" fill="none" stroke="#ff8a10"><circle cx="204.8" cy="11.4" r="4"/><path d="M200.8 11.4H208.8" /><path d="M204.8 7.4V15.4" stroke-opacity=".55"/></g>
<rect x="217.5" y="1.5" width="11.4" height="12" fill="#fff" stroke="#00008c" stroke-width="1.2" shape-rendering="geometricPrecision"/>
<path d="M230 2.5V14.5H218.5" fill="none" stroke="#9a9a9a" stroke-opacity=".6" shape-rendering="geometricPrecision"/>
<g shape-rendering="geometricPrecision" fill="none" stroke-width="1.1"><path d="M218.300 8.6L221.4 4.5L224.4 7.4L227.8 5.4" stroke="#ff1010"/><path d="M218.300 11.7L221.4 7.8L224.4 10.5L227.8 8.300" stroke="#1020ff"/></g>
<circle cx="29" cy="436" r="3.5" fill="#fff" stroke="#000" stroke-width="1.1" shape-rendering="geometricPrecision"/><circle cx="29" cy="436" r="2.1" fill="#ff0000" shape-rendering="geometricPrecision"/>
<g fill="#ff0000"><rect x="28" y="429" width="1" height="2"/><rect x="28" y="441" width="1" height="2"/><rect x="22" y="435" width="2" height="1"/><rect x="34" y="435" width="2" height="1"/><rect x="23" y="430" width="1" height="1"/><rect x="24" y="431" width="1" height="1"/><rect x="34" y="430" width="1" height="1"/><rect x="33" y="431" width="1" height="1"/><rect x="24" y="440" width="1" height="1"/><rect x="23" y="441" width="1" height="1"/><rect x="33" y="440" width="1" height="1"/><rect x="34" y="441" width="1" height="1"/></g>
<g font-family="'Liberation Sans','Noto Sans CJK SC',sans-serif" font-size="12" fill="#2d2d3c" shape-rendering="geometricPrecision" text-rendering="geometricPrecision">
<text x="87" y="25.0" text-anchor="end" font-size="12.5">82.30</text>
<text x="847" y="25.0" font-size="12.5">82.30</text>
<text x="87" y="85.0" text-anchor="end" font-size="12.5">76.49</text>
<text x="847" y="85.0" font-size="12.5">76.49</text>
<text x="87" y="145.0" text-anchor="end" font-size="12.5">70.67</text>
<text x="847" y="145.0" font-size="12.5">70.67</text>
<text x="87" y="205.0" text-anchor="end" font-size="12.5">64.85</text>
<text x="847" y="205.0" font-size="12.5">64.85</text>
<text x="87" y="265.0" text-anchor="end" font-size="12.5">59.03</text>
<text x="87" y="346.0" text-anchor="end" font-size="12.5">75.28</text>
<text x="847" y="346.0" font-size="12.5">75.28</text>
<text x="87" y="374.5" text-anchor="end" font-size="12.5">58.12</text>
<text x="847" y="374.5" font-size="12.5">58.12</text>
<text x="87" y="403.5" text-anchor="end" font-size="12.5">40.96</text>
<text x="847" y="403.5" font-size="12.5">40.96</text>
<text x="87" y="454.5" text-anchor="end" font-size="12.5">109.98</text>
<text x="847" y="453.7" font-size="12.5">109.98</text>
<text x="87" y="487.5" text-anchor="end" font-size="12.5">46.51</text>
<text x="847" y="486.7" font-size="12.5">46.51</text>
<text x="843.8" y="156.2" text-anchor="end" fill="#ff0000" font-size="12.5">68.94</text>
<text x="843.8" y="205" text-anchor="end" fill="#ff0000" font-size="12.5">64.19</text>
<text x="843.8" y="218" text-anchor="end" fill="#ff0000" font-size="12.5">62.88</text>
<text x="847" y="262.2" fill="#ff8000" font-size="12.5">60.24</text>
<text x="307.6" y="49" font-weight="bold" fill="#ea4358" font-size="12.5">79.39</text>
<text x="107.6" y="195.9" font-weight="bold" fill="#47b58c" font-size="12.5">66.53</text>
<text x="607.9" y="314" font-weight="bold" fill="#47b58c" font-size="12.5">55.12</text>
<text x="92.5" y="13.6" fill="#000" font-weight="500">美原油连续<tspan fill="#ff7a1a" font-weight="400">【日线】</tspan></text>
<text x="232.3" y="14.3" fill="#111" font-size="12.5" textLength="105.2" lengthAdjust="spacing">MA(0,50,0,200,0,0)</text>
<text x="342.1" y="14.3" fill="#4a8ff2" font-size="12.5" textLength="61.2" lengthAdjust="spacing">MA0:60.24</text>
<text x="411.2" y="14.3" fill="#4cc48c" font-size="12.5" textLength="68.1" lengthAdjust="spacing">MA50:62.88</text>
<text x="488.0" y="14.3" fill="#3aa8ea" font-size="12.5" textLength="60.5" lengthAdjust="spacing">MA0:60.24</text>
<text x="556.0" y="14.3" fill="#f5904a" font-size="12.5" textLength="75.1" lengthAdjust="spacing">MA200:68.94</text>
<text x="639.3" y="14.3" fill="#e882e2" font-size="12.5" textLength="60.3" lengthAdjust="spacing">MA0:60.24</text>
<text x="92.2" y="335" fill="#111" font-size="12.5" textLength="75.1" lengthAdjust="spacing">RSI(14,14,14)</text>
<text x="171.0" y="335" fill="#4a8ff2" font-size="12.5" textLength="60.3" lengthAdjust="spacing">RSI1:43.86</text>
<text x="238.9" y="335" fill="#4cc48c" font-size="12.5" textLength="60.3" lengthAdjust="spacing">RSI2:43.86</text>
<text x="306.5" y="335" fill="#3aa8ea" font-size="12.5" textLength="61.0" lengthAdjust="spacing">RSI3:43.86</text>
<text x="92.2" y="443" fill="#111" font-size="12.5" textLength="56.7" lengthAdjust="spacing">KDJ(9,3,3)</text>
<text x="152.8" y="443" fill="#4a8ff2" font-size="12.5" textLength="42.3" lengthAdjust="spacing">K:24.00</text>
<text x="202.4" y="443" fill="#4cc48c" font-size="12.5" textLength="43.9" lengthAdjust="spacing">D:34.60</text>
<text x="254.0" y="443" fill="#3aa8ea" font-size="12.5" textLength="31.7" lengthAdjust="spacing">J:2.79</text>
<text x="154.7" y="528.9" font-weight="bold" fill="#1c1c2a" font-size="12.5">2024/12</text>
<text x="259.7" y="528.9" font-weight="bold" fill="#1c1c2a" font-size="12.5">2025/01</text>
<text x="369.7" y="528.9" font-weight="bold" fill="#1c1c2a" font-size="12.5">2025/02</text>
<text x="469.7" y="528.9" font-weight="bold" fill="#1c1c2a" font-size="12.5">2025/03</text>
<text x="574.7" y="528.9" font-weight="bold" fill="#1c1c2a" font-size="12.5">2025/04</text>
<text x="679.7" y="528.9" font-weight="bold" fill="#1c1c2a" font-size="12.5">2025/05</text>
</g>
<text x="784.6" y="526.6" font-family="'Liberation Sans',sans-serif" font-size="31.5" letter-spacing="1.5" fill="#dbe6f4" style="text-shadow:1px 1px 1px #a89a8c" shape-rendering="geometricPrecision">FX678</text>
</svg>
<div class="side">
<div class="tab" style="top:0;height:51px;padding-top:6.2px"><span>分</span><span>时</span><span>图</span></div>
<div class="tab on" style="top:50px;height:47px;padding-top:4.5px"><span class="k">K</span><span>线</span><span>图</span></div>
<div class="tab" style="top:97px;height:53px;padding-top:7.3px;border-bottom:1px solid #eef0f5"><span>闪</span><span>电</span><span>图</span></div>
<div class="tab" style="top:150px;height:63px;padding-top:6.6px"><span>合</span><span>约</span><span>资</span><span>料</span></div>
<div class="rest"></div>
</div>
<div class="dl">日线 <i>▲</i></div>
<div class="tb">
<div style="width:40px">指标</div><div class="o" style="width:39px">模板</div><div class="v" style="width:59px"><b>VIP</b>指标</div><div style="width:40px">标准</div><div class="n" style="width:58px">50 200</div><div class="o" style="width:63px">另存模板</div><div style="width:65px">管理模板</div><div class="e"></div>
</div>
</body></html>
